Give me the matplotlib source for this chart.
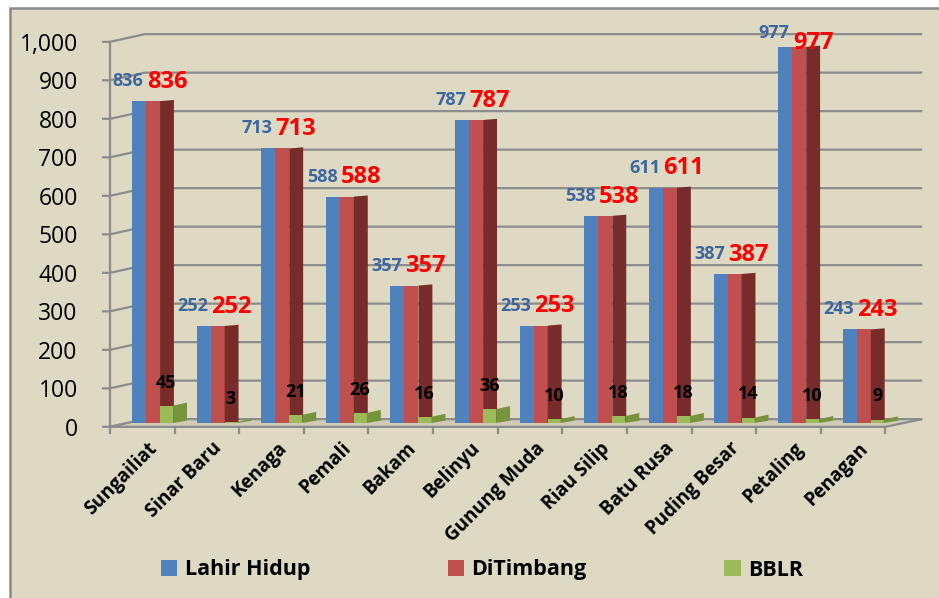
import numpy as np
import matplotlib
matplotlib.use("Agg")
import matplotlib.pyplot as plt
from matplotlib.patches import Polygon, Rectangle

categories = ["Sungailiat", "Sinar Baru", "Kenaga", "Pemali", "Bakam", "Belinyu",
              "Gunung Muda", "Riau Silip", "Batu Rusa", "Puding Besar", "Petaling", "Penagan"]
lahir_hidup = [836, 252, 713, 588, 357, 787, 253, 538, 611, 387, 977, 243]
ditimbang = [836, 252, 713, 588, 357, 787, 253, 538, 611, 387, 977, 243]
bblr = [45, 3, 21, 26, 16, 36, 10, 18, 18, 14, 10, 9]
yticks = [0, 100, 200, 300, 400, 500, 600, 700, 800, 900, 1000]
ytick_labels = ["0", "100", "200", "300", "400", "500", "600", "700", "800", "900", "1,000"]

plt.rcParams['font.family'] = ['Open Sans', 'DejaVu Sans']

BG = '#DDD9C3'
GRID = '#8C8C8C'
W, H = 939, 598

fig = plt.figure(figsize=(W / 100, H / 100), dpi=100, facecolor='white')
# chart area with grey border (left/top visible)
fig.patches.append(Rectangle((10 / W, -0.1), 1.2, (H - 8) / H + 0.1, transform=fig.transFigure,
                             facecolor=BG, edgecolor='#8A8A8A', lw=1.8, zorder=-5))

ax = fig.add_axes([100 / W, (H - 440) / H, 830 / W, 420 / H])
ax.set_facecolor('none')
ax.set_xlim(-0.155, 12.69)
ax.set_ylim(-44.2, 1046.7)
ax.axis('off')

n = len(categories)
x = np.arange(n)
bw = 0.217
depth = 0.215
front, back = -10, 10  # 3d floor offsets in value units

# walls: gridlines running front -> back wall
for v in yticks:
    ax.plot([-0.124, 0, 0.54, 12.57], [v + front, v + front, v + back, v + back],
            color=GRID, lw=1.6, zorder=1, solid_capstyle='butt')
ax.plot([0, 0], [front, 1000 + front], color=GRID, lw=1.6, zorder=1)
ax.add_patch(Polygon([(0, front), (n, front), (n + 0.57, back), (0.54, back)],
                     closed=True, facecolor='#CFCBB6', edgecolor=GRID, lw=1.6, zorder=1.5))
for i in range(n + 1):
    ax.plot([i, i], [front, front - 16], color=GRID, lw=1.6, zorder=1)

for i, v in enumerate(yticks):
    ax.text(-0.5, v - 18, ytick_labels[i], ha='right', va='center', fontsize=16.5,
            color='black', clip_on=False)

blue = ax.bar(x + 0.34, lahir_hidup, width=bw, align='edge', color='#4F81BD', zorder=3)
red = ax.bar(x + 0.34 + bw, ditimbang, width=bw, align='edge', color='#C0504D', zorder=3)
green = ax.bar(x + 0.34 + 2 * bw, bblr, width=bw * 0.93, align='edge', color='#9BBB59', zorder=5)

# side faces for the 3d look
for p in red.patches:
    x1 = p.get_x() + p.get_width()
    h = p.get_height()
    ax.add_patch(Polygon([(x1, 0), (x1 + depth, 3), (x1 + depth, h + 3), (x1, h)],
                         closed=True, facecolor='#772C2A', edgecolor='none', zorder=4))
for p in green.patches:
    x1 = p.get_x() + p.get_width()
    h = p.get_height()
    ax.add_patch(Polygon([(x1, 0), (x1 + depth, 6), (x1 + depth, h + 8), (x1, h)],
                         closed=True, facecolor='#77933C', edgecolor='none', zorder=5))

# value labels
for i in range(n):
    ax.text(i + 0.52, min(lahir_hidup[i] + 52, 1013), str(lahir_hidup[i]), ha='right', va='center',
            fontsize=13, fontweight='bold', color='#3C679E', zorder=10, clip_on=False)
    ax.text(i + 0.88, min(ditimbang[i] + 50, 986), str(ditimbang[i]), ha='center', va='center',
            fontsize=17, fontweight='bold', color='#FF0000', zorder=10, clip_on=False)
    ax.text(i + 0.87, bblr[i] + 60, str(bblr[i]), ha='center', va='center',
            fontsize=13, fontweight='bold', color='black', zorder=10, clip_on=False)

# category labels
for i, c in enumerate(categories):
    ax.text(i + 0.58, -40, c, rotation=45, rotation_mode='anchor', ha='right', va='top',
            fontsize=13.5, fontweight='bold', color='black', clip_on=False)

fig.legend([blue, red, green], ["Lahir Hidup", "DiTimbang", "BBLR"], loc='center',
           bbox_to_anchor=(482 / W, (H - 570) / H), ncol=3, frameon=False,
           prop={'size': 15.5, 'weight': 'bold'}, handlelength=0.75, handleheight=0.75,
           handletextpad=0.35, columnspacing=6.4)

fig.savefig('out.png', dpi=100, facecolor='white')
